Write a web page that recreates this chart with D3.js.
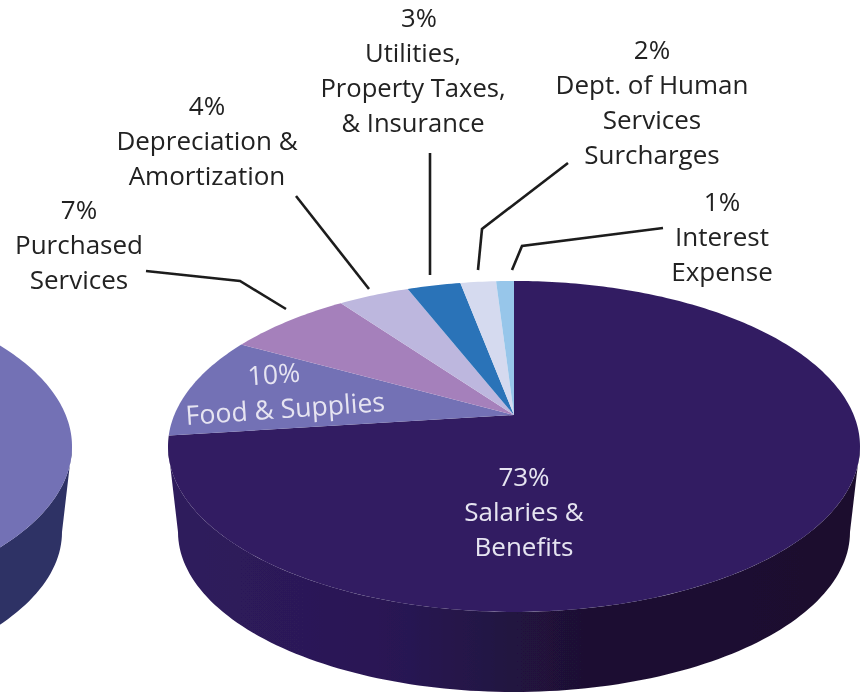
<!DOCTYPE html>
<html><head><meta charset="utf-8">
<style>html,body{margin:0;padding:0;background:#fff}svg{display:block}text{font-family:"Open Sans","Liberation Sans",Arial,sans-serif}</style>
<script src="https://cdn.jsdelivr.net/npm/d3@7/dist/d3.min.js"></script>
</head><body><svg id="c" width="866" height="694"></svg>
<script>
const categories = ["Salaries & Benefits","Food & Supplies","Purchased Services","Depreciation & Amortization","Utilities, Property Taxes, & Insurance","Dept. of Human Services Surcharges","Interest Expense"];
const percents = [73,10,7,4,3,2,1];
const sliceColors = ["#331f62","#7371b5","#a580bb","#bdb7de","#2b73b8","#d5daef","#97c6ea"];
const labelLines = [["73%","Salaries &","Benefits"],["10%","Food & Supplies"],["7%","Purchased","Services"],["4%","Depreciation &","Amortization"],["3%","Utilities,","Property Taxes,","& Insurance"],["2%","Dept. of Human","Services","Surcharges"],["1%","Interest","Expense"]];

// layout only
const labelAnchors = [[524,477],[284,374],[79,210],[207,106],[413,18],[652,50],[722,202]];
const firstLineDx = [0,-9,0,0,6,0,0];
const labelSizes = [26,26.6,26,26,25.6,26,26];
const leaders = [null,null,[[146,271],[240,281],[286,309]],[[296,196],[369,289]],[[430,153],[430,275]],[[568,163],[482,229],[478,270]],[[663,228],[522,246],[512,270]]];
const K=0.19, A=159.5, B=339.7;

const svg = d3.select("#c");
const defs = svg.append("defs");
defs.append("filter").attr("id","soft").attr("x","-5%").attr("y","-5%").attr("width","110%").attr("height","110%")
  .append("feGaussianBlur").attr("stdDeviation",0.55);
const g1 = defs.append("linearGradient").attr("id","wall").attr("gradientUnits","userSpaceOnUse")
  .attr("x1",168).attr("x2",860).attr("y1",0).attr("y2",0);
[[0,"#2e1b5c"],[0.2,"#2c1958"],[0.35,"#281552"],[0.5,"#221240"],[0.6,"#1e1133"],[1,"#1c0f2e"]].forEach(s=>g1.append("stop").attr("offset",s[0]).attr("stop-color",s[1]));

const root = svg.append("g").attr("filter","url(#soft)");
const line = d3.line();
const proj = (a,r,cx,cy)=>{const u=r*Math.sin(a),v=-r*Math.cos(a),d=1-K*v;return [cx+B*u/d,cy+A*v/d];};
const wallLowerY = 532, wallRx = 336, wallRy = 160;

function wall(cx,cy,dy,fill){
  const a0 = Math.PI/2 + Math.asin(K), a1 = 3*Math.PI/2 - Math.asin(K);
  const top = d3.range(0,121).map(i=>proj(a0+(a1-a0)*i/120,1,cx,cy));
  const low = d3.range(0,121).map(i=>{const t=Math.PI*i/120;return [cx-wallRx*Math.cos(t),cy+dy+wallRy*Math.sin(t)];});
  root.append("path").attr("d",line(top.concat(low))+"Z").attr("fill",fill);
}
function face(cx,cy,a0,a1,fill){
  const n=Math.max(4,Math.ceil((a1-a0)*60));
  const pts=[[cx,cy]].concat(d3.range(0,n+1).map(i=>proj(a0+(a1-a0)*i/n,1,cx,cy)));
  root.append("path").attr("d",line(pts)+"Z").attr("fill",fill);
}

wall(-274,415,wallLowerY-415,"#2e3165");
face(-274,415,0,2*Math.PI,"#7371b5");

const cx=514, cy=415;
wall(cx,cy,wallLowerY-cy,"url(#wall)");
const arcs = d3.pie().sort(null).value(d=>d)(percents);
arcs.forEach((d,i)=>face(cx,cy,d.startAngle,d.endAngle,sliceColors[i]));

leaders.forEach(p=>{ if(p) root.append("path").attr("d",line(p)).attr("fill","none").attr("stroke","#1c1c1c").attr("stroke-width",2.6); });

const LH=35;
labelLines.forEach((lines,i)=>{
  const [x,y]=labelAnchors[i];
  const g=root.append("g");
  if(i===1) g.attr("transform",`rotate(-4 ${x} ${y+17})`);
  lines.forEach((t,j)=>{
    g.append("text").attr("x",x+(j===0?firstLineDx[i]:0)).attr("y",y+j*LH+9).attr("text-anchor","middle")
     .attr("font-size",labelSizes[i]).attr("fill",i<2?"#e6e4f1":"#222").text(t);
  });
});
</script></body></html>
